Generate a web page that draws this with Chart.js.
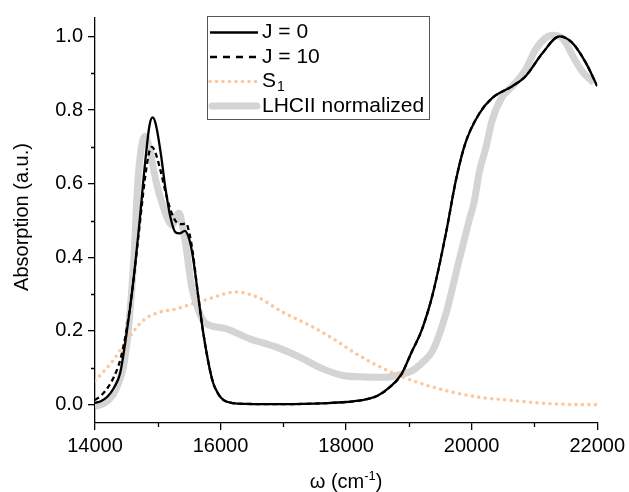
<!DOCTYPE html>
<html>
<head>
<meta charset="utf-8">
<script src="https://cdn.jsdelivr.net/npm/chart.js@4/dist/chart.umd.min.js"></script>
<style>
html,body{margin:0;padding:0;background:#fff;}
canvas{display:block;}
</style>
</head>
<body>
<canvas id="c" width="629" height="492"></canvas>
<script>
// ---- data ----
const j0X = [14000,14100,14200,14300,14400,14500,14600,14700,14800,14870,14920,14970,15050,15120,15200,15280,15350,15430,15500,15560,15640,15720,15800,15880,15960,16050,16200,16400,17000,17700,18000,18250,18500,18700,18880,19050,19200,19380,19590,19750,19900,20120,20330,20650,20860,21130,21400,21600,21820,22000];
const j0Y = [0.004,0.010,0.022,0.045,0.085,0.19,0.32,0.48,0.66,0.76,0.78,0.76,0.68,0.59,0.51,0.468,0.465,0.472,0.45,0.40,0.30,0.20,0.12,0.06,0.03,0.012,0.004,0.002,0.001,0.004,0.007,0.012,0.024,0.048,0.082,0.145,0.20,0.30,0.465,0.61,0.71,0.79,0.833,0.865,0.892,0.955,1.0,0.983,0.928,0.865];

const j10X = [14000,14100,14200,14300,14400,14500,14600,14700,14800,14870,14910,14960,15030,15120,15200,15300,15380,15450,15510,15560,15640,15720,15800,15880,15960,16050,16200,16400,17000,17700,18000,18250,18500,18700,18880,19050,19200,19380,19590,19750,19900,20120,20330,20650,20860,21130,21400,21600,21820,22000];
const j10Y = [0.012,0.025,0.045,0.075,0.12,0.20,0.32,0.47,0.62,0.69,0.70,0.685,0.645,0.58,0.53,0.495,0.49,0.492,0.46,0.41,0.30,0.20,0.12,0.06,0.03,0.012,0.004,0.002,0.001,0.004,0.007,0.012,0.024,0.048,0.082,0.145,0.20,0.30,0.465,0.61,0.71,0.79,0.833,0.865,0.892,0.955,1.0,0.983,0.928,0.865];

const s1X = [14000,14130,14290,14500,14770,15030,15300,15560,15830,16090,16230,16570,16990,17420,17790,18160,18580,19060,19590,20120,20650,21180,21700,22000];
const s1Y = [0.065,0.088,0.12,0.172,0.229,0.251,0.26,0.274,0.288,0.302,0.306,0.293,0.251,0.215,0.179,0.138,0.099,0.065,0.038,0.02,0.011,0.003,0.0,0.0];

const lhX = [14000,14100,14200,14300,14400,14450,14530,14620,14680,14740,14800,14860,14980,15080,15170,15230,15300,15340,15400,15440,15540,15620,15720,15830,16090,16460,16890,17260,17630,17950,18300,18600,18800,19060,19220,19380,19590,19800,19960,20040,20120,20230,20330,20490,20650,20860,21020,21180,21290,21400,21500,21600,21760,21950];
const lhY = [-0.005,0.0,0.01,0.03,0.07,0.10,0.20,0.40,0.60,0.70,0.728,0.70,0.60,0.54,0.50,0.488,0.515,0.52,0.48,0.44,0.32,0.27,0.229,0.215,0.206,0.179,0.156,0.129,0.097,0.079,0.075,0.074,0.079,0.093,0.115,0.147,0.247,0.392,0.50,0.55,0.63,0.70,0.774,0.837,0.865,0.910,0.965,0.996,1.003,1.0,0.983,0.950,0.905,0.874];

const seriesLabels = ['J = 0', 'J = 10', 'S1', 'LHCII normalized'];
const xTicks = [14000, 16000, 18000, 20000, 22000];
const xMinorTicks = [15000, 17000, 19000, 21000];
const yTicks = [0, 0.2, 0.4, 0.6, 0.8, 1.0];
const yMinorTicks = [0.1, 0.3, 0.5, 0.7, 0.9];
const xTitle = 'ω (cm';
const xTitleSup = '-1';
const yTitle = 'Absorption (a.u.)';

const pts = (xs, ys) => xs.map((x, i) => ({x: x, y: ys[i]}));
const FONT = '"Liberation Sans", Arial, sans-serif';

const datasets = [
  {label: seriesLabels[0], data: pts(j0X, j0Y), borderColor: '#000', borderWidth: 2.3, order: 0},
  {label: seriesLabels[1], data: pts(j10X, j10Y), borderColor: '#000', borderWidth: 2.3, borderDash: [5, 3.5], order: 1},
  {label: seriesLabels[2], data: pts(s1X, s1Y), borderColor: '#fcc79c', borderWidth: 3.6, borderDash: [0, 6.5], borderCapStyle: 'round', order: 2},
  {label: seriesLabels[3], data: pts(lhX, lhY), borderColor: '#d4d4d4', borderWidth: 7, borderJoinStyle: 'round', order: 3}
];
datasets.forEach(d => { d.pointRadius = 0; d.fill = false; d.cubicInterpolationMode = 'monotone'; });

const decor = {
  id: 'decor',
  afterDraw(chart) {
    const ctx = chart.ctx;
    const xs = chart.scales.x, ys = chart.scales.y;
    const a = chart.chartArea;
    ctx.save();
    // minor ticks
    ctx.strokeStyle = '#000';
    ctx.lineWidth = 1.3;
    ctx.beginPath();
    xMinorTicks.forEach(v => { const p = Math.round(xs.getPixelForValue(v)) + 0.5; ctx.moveTo(p, a.bottom); ctx.lineTo(p, a.bottom + 4); });
    yMinorTicks.forEach(v => { const p = Math.round(ys.getPixelForValue(v)) + 0.5; ctx.moveTo(a.left, p); ctx.lineTo(a.left - 4, p); });
    ctx.stroke();

    // axis titles
    ctx.fillStyle = '#000';
    ctx.font = '20px ' + FONT;
    ctx.textBaseline = 'alphabetic';
    const w1 = ctx.measureText(xTitle).width;
    ctx.font = '13px ' + FONT;
    const w2 = ctx.measureText(xTitleSup).width;
    ctx.font = '20px ' + FONT;
    const w3 = ctx.measureText(')').width;
    const cx = (a.left + a.right) / 2;
    let tx = cx - (w1 + w2 + w3) / 2;
    const by = 488;
    ctx.textAlign = 'left';
    ctx.fillText(xTitle, tx, by);
    ctx.font = '13px ' + FONT;
    ctx.fillText(xTitleSup, tx + w1, by - 8);
    ctx.font = '20px ' + FONT;
    ctx.fillText(')', tx + w1 + w2, by);

    ctx.save();
    ctx.translate(22, 217);
    ctx.rotate(-Math.PI / 2);
    ctx.textAlign = 'center';
    ctx.textBaseline = 'middle';
    ctx.fillText(yTitle, 0, 0);
    ctx.restore();

    // legend
    const bx = 207.5, bt = 16.5, bw = 222, bh = 103;
    ctx.fillStyle = '#fff';
    ctx.fillRect(bx, bt, bw, bh);
    ctx.strokeStyle = '#555';
    ctx.lineWidth = 1;
    ctx.setLineDash([]);
    ctx.strokeRect(bx, bt, bw, bh);
    const rows = [32.5, 57, 81.5, 106];
    datasets.forEach((d, i) => {
      const y = rows[i];
      ctx.save();
      ctx.strokeStyle = d.borderColor;
      ctx.lineWidth = d.borderWidth;
      ctx.lineCap = d.borderCapStyle || (i === 3 ? 'round' : 'butt');
      ctx.setLineDash(i === 1 ? [7, 6] : (d.borderDash || []));
      ctx.beginPath();
      const x0 = i === 3 ? 212 : 210;
      const x1 = i === 3 ? 257 : 258;
      ctx.moveTo(x0, y); ctx.lineTo(x1, y);
      ctx.stroke();
      ctx.restore();
      ctx.fillStyle = '#000';
      ctx.textAlign = 'left';
      ctx.textBaseline = 'middle';
      ctx.font = '21px ' + FONT;
      if (i === 2) {
        ctx.fillText('S', 262, y);
        const ws = ctx.measureText('S').width;
        ctx.font = '14px ' + FONT;
        ctx.fillText('1', 262 + ws + 1, y + 6);
      } else {
        ctx.fillText(d.label, 262, y);
      }
    });
    ctx.restore();
  }
};

new Chart(document.getElementById('c'), {
  type: 'line',
  data: {datasets: datasets},
  plugins: [decor],
  options: {
    responsive: false,
    animation: false,
    events: [],
    layout: {padding: {top: 18, right: 31, left: 0, bottom: 0}},
    plugins: {legend: {display: false}, tooltip: {enabled: false}},
    scales: {
      x: {
        type: 'linear', min: 14000, max: 22000,
        afterBuildTicks: s => { s.ticks = xTicks.map(v => ({value: v})); },
        afterFit: s => { s.height = 69; },
        ticks: {color: '#000', font: {size: 20, family: FONT}, padding: 4, maxRotation: 0, autoSkip: false, callback: v => String(v)},
        grid: {display: true, drawOnChartArea: false, drawTicks: true, tickLength: 7, color: '#000', lineWidth: 1.3},
        border: {display: true, color: '#000', width: 1.3}
      },
      y: {
        type: 'linear', min: -0.05, max: 1.05,
        afterBuildTicks: s => { s.ticks = yTicks.map(v => ({value: v})); },
        afterFit: s => { s.width = 95; },
        ticks: {color: '#000', font: {size: 20, family: FONT}, padding: 5, autoSkip: false, callback: v => Number(v).toFixed(1)},
        grid: {display: true, drawOnChartArea: false, drawTicks: true, tickLength: 7, color: '#000', lineWidth: 1.3},
        border: {display: true, color: '#000', width: 1.3}
      }
    }
  }
});
</script>
</body>
</html>
